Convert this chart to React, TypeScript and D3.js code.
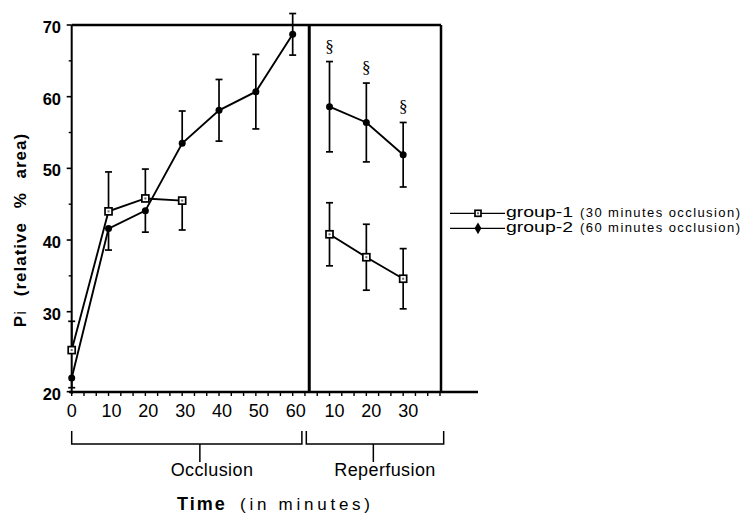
import * as d3 from 'd3';

// values
const occlusionTimes = [0, 10, 20, 30, 40, 50, 60];
const reperfusionTimes = [10, 20, 30];

const group1Occlusion = [25.2, 44.0, 45.8, 45.5];
const group1OcclusionErr = [3.6, 5.5, 4.1, 4.1];
const group1OcclusionSide = ['up', 'up', 'up', 'down'];

const group2Occlusion = [21.7, 41.6, 44.1, 53.5, 58.1, 60.7, 68.7];
const group2OcclusionErr = [1.2, 3.0, 3.0, 4.5, 4.3, 5.2, 2.9];
const group2OcclusionSide = ['down', 'down', 'down', 'up', 'both', 'both', 'both'];

const group1Reperfusion = [40.8, 37.6, 34.6];
const group1ReperfusionErr = [4.4, 4.6, 4.2];

const group2Reperfusion = [58.6, 56.4, 51.9];
const group2ReperfusionErr = [6.3, 5.5, 4.5];

const yTicks = [20, 30, 40, 50, 60, 70];
const yMinorTicks = [25, 35, 45, 55, 65];

const legendLabels = ['group-1', 'group-2'];
const legendNotes = ['(30 minutes occlusion)', '(60 minutes occlusion)'];

const FONT = '"Liberation Sans", Arial, Helvetica, sans-serif';

type Pt = { x: number; v: number; e: number; side: string };

export default function App() {
  const x = d3.scaleLinear().domain([0, 100]).range([71.7, 440]);
  // the scanned axis is not quite even at the bottom
  const y = d3.scaleLinear().domain([20, 30, 70]).range([391.7, 311.7, 25]);

  const top = y(70);
  const bottom = 392;
  const divider = x(64.5);
  const right = 441;

  const line = d3.line<Pt>().x(d => x(d.x)).y(d => y(d.v));

  const g1o: Pt[] = group1Occlusion.map((v, i) => ({ x: occlusionTimes[i], v, e: group1OcclusionErr[i], side: group1OcclusionSide[i] }));
  const g2o: Pt[] = group2Occlusion.map((v, i) => ({ x: occlusionTimes[i], v, e: group2OcclusionErr[i], side: group2OcclusionSide[i] }));
  const g1r: Pt[] = group1Reperfusion.map((v, i) => ({ x: 60 + reperfusionTimes[i], v, e: group1ReperfusionErr[i], side: 'both' }));
  const g2r: Pt[] = group2Reperfusion.map((v, i) => ({ x: 60 + reperfusionTimes[i], v, e: group2ReperfusionErr[i], side: 'both' }));

  const errBar = (d: Pt, k: string) => {
    const cx = x(d.x);
    const y1 = d.side === 'down' ? y(d.v) : y(d.v + d.e);
    const y2 = d.side === 'up' ? y(d.v) : y(d.v - d.e);
    return (
      <g key={k} stroke="#000" strokeWidth={1.7}>
        <line x1={cx} x2={cx} y1={y1} y2={y2} />
        {d.side !== 'down' && <line x1={cx - 3.5} x2={cx + 3.5} y1={y1} y2={y1} />}
        {d.side !== 'up' && <line x1={cx - 3.5} x2={cx + 3.5} y1={y2} y2={y2} />}
      </g>
    );
  };

  const square = (cx: number, cy: number, k: string, s = 7) => (
    <g key={k}>
      <rect x={cx - s / 2} y={cy - s / 2} width={s} height={s} fill="#fff" stroke="#000" strokeWidth={1.7} />
      <rect x={cx - 1} y={cy - 1} width={2} height={2} fill="#666" />
    </g>
  );
  const dot = (cx: number, cy: number, k: string) => (
    <circle key={k} cx={cx} cy={cy} r={3.5} fill="#000" />
  );

  const xMinor = d3.range(0, 101, 10 / 3);

  return (
    <svg width={745} height={515} style={{ position: 'absolute', left: 0, top: 0, background: '#fff' }} fontFamily={FONT}>
      <rect width={745} height={515} fill="#fff" />

      {/* frame */}
      <line x1={x(0)} x2={right} y1={top} y2={top} stroke="#000" strokeWidth={2.5} />
      <line x1={x(0)} x2={x(0)} y1={top} y2={bottom + 2} stroke="#000" strokeWidth={2} />
      <line x1={divider} x2={divider} y1={top} y2={bottom} stroke="#000" strokeWidth={3} />
      <line x1={right} x2={right} y1={top} y2={bottom} stroke="#000" strokeWidth={2.5} />
      <line x1={69} x2={478} y1={bottom} y2={bottom} stroke="#000" strokeWidth={2.5} />

      {/* y ticks */}
      {yTicks.map(t => (
        <g key={'yt' + t}>
          <line x1={x(0) - 5} x2={x(0)} y1={y(t)} y2={y(t)} stroke="#000" strokeWidth={1.6} />
          <text x={61} y={y(t) + 8} textAnchor="end" fontSize={16.5} fontWeight="bold">{t}</text>
        </g>
      ))}
      {yMinorTicks.map(t => (
        <line key={'ym' + t} x1={x(0) - 3} x2={x(0)} y1={y(t)} y2={y(t)} stroke="#000" strokeWidth={1.4} />
      ))}

      {/* x ticks */}
      {xMinor.map((t, i) => (
        <line key={'xm' + i} x1={x(t)} x2={x(t)} y1={bottom} y2={bottom + 4} stroke="#000" strokeWidth={1.4} />
      ))}
      {occlusionTimes.map(t => (
        <text key={'xo' + t} x={x(t) + (t === 0 ? 0 : 3)} y={416.5} textAnchor="middle" fontSize={18}>{t}</text>
      ))}
      {reperfusionTimes.map(t => (
        <text key={'xr' + t} x={x(60 + t) + 5} y={416.5} textAnchor="middle" fontSize={18}>{t}</text>
      ))}

      {/* brackets */}
      <g stroke="#000" strokeWidth={1.5} fill="none">
        <path d={`M${x(0)},431 V444 H${x(62.5)} V431`} />
        <line x1={x(34.8)} x2={x(34.8)} y1={444} y2={462} />
        <path d={`M${x(63.7)},431 V444 H${x(101)} V431`} />
        <line x1={x(81.9)} x2={x(81.9)} y1={444} y2={462} />
      </g>
      <text x={212} y={476} textAnchor="middle" fontSize={18} letterSpacing={0.4}>Occlusion</text>
      <text x={385} y={476} textAnchor="middle" fontSize={18} letterSpacing={0.4}>Reperfusion</text>

      {/* axis titles */}
      <text x={177} y={510} fontSize={18} fontWeight="bold" letterSpacing={2}>Time</text>
      <text x={240} y={510} fontSize={17} textLength={130} lengthAdjust="spacing">(in  minutes)</text>
      <text transform="translate(26,230) rotate(-90)" textAnchor="middle" fontSize={17} fontWeight="bold" letterSpacing={1} wordSpacing={8}>
        P<tspan fontWeight="normal">i</tspan> (relative % area)
      </text>

      {/* error bars */}
      {g1o.map((d, i) => errBar(d, 'e1o' + i))}
      {g2o.map((d, i) => errBar(d, 'e2o' + i))}
      {g1r.map((d, i) => errBar(d, 'e1r' + i))}
      {g2r.map((d, i) => errBar(d, 'e2r' + i))}

      {/* lines */}
      <g fill="none" stroke="#000" strokeWidth={1.9}>
        <path d={line(g1o) || ''} />
        <path d={line(g2o) || ''} />
        <path d={line(g1r) || ''} />
        <path d={line(g2r) || ''} />
      </g>

      {/* markers */}
      {g2o.map((d, i) => dot(x(d.x), y(d.v), 'd2o' + i))}
      {g2r.map((d, i) => dot(x(d.x), y(d.v), 'd2r' + i))}
      {g1o.map((d, i) => square(x(d.x), y(d.v), 'd1o' + i))}
      {g1r.map((d, i) => square(x(d.x), y(d.v), 'd1r' + i))}

      {/* significance marks */}
      {g2r.map((d, i) => (
        <text key={'s' + i} x={x(d.x)} y={y(d.v + d.e) - 10} textAnchor="middle" fontSize={17} fontFamily='"Liberation Serif", "DejaVu Serif", serif'>§</text>
      ))}

      {/* legend */}
      {legendLabels.map((lab, i) => {
        const ly = 213.3 + i * 15;
        return (
          <g key={'lg' + i}>
            <line x1={450} x2={505} y1={ly} y2={ly} stroke="#000" strokeWidth={1.3} />
            {i === 0 ? square(478, ly, 'lgm0', 6) : (
              <path d={d3.symbol(d3.symbolDiamond, 40)() || ''} transform={`translate(478,${ly})`} fill="#000" />
            )}
            <text x={506} y={ly + 4} fontSize={14.5} textLength={67} lengthAdjust="spacingAndGlyphs">{lab}</text>
            <text x={580} y={ly + 4} fontSize={13} textLength={160} lengthAdjust="spacing">{legendNotes[i]}</text>
          </g>
        );
      })}
    </svg>
  );
}
